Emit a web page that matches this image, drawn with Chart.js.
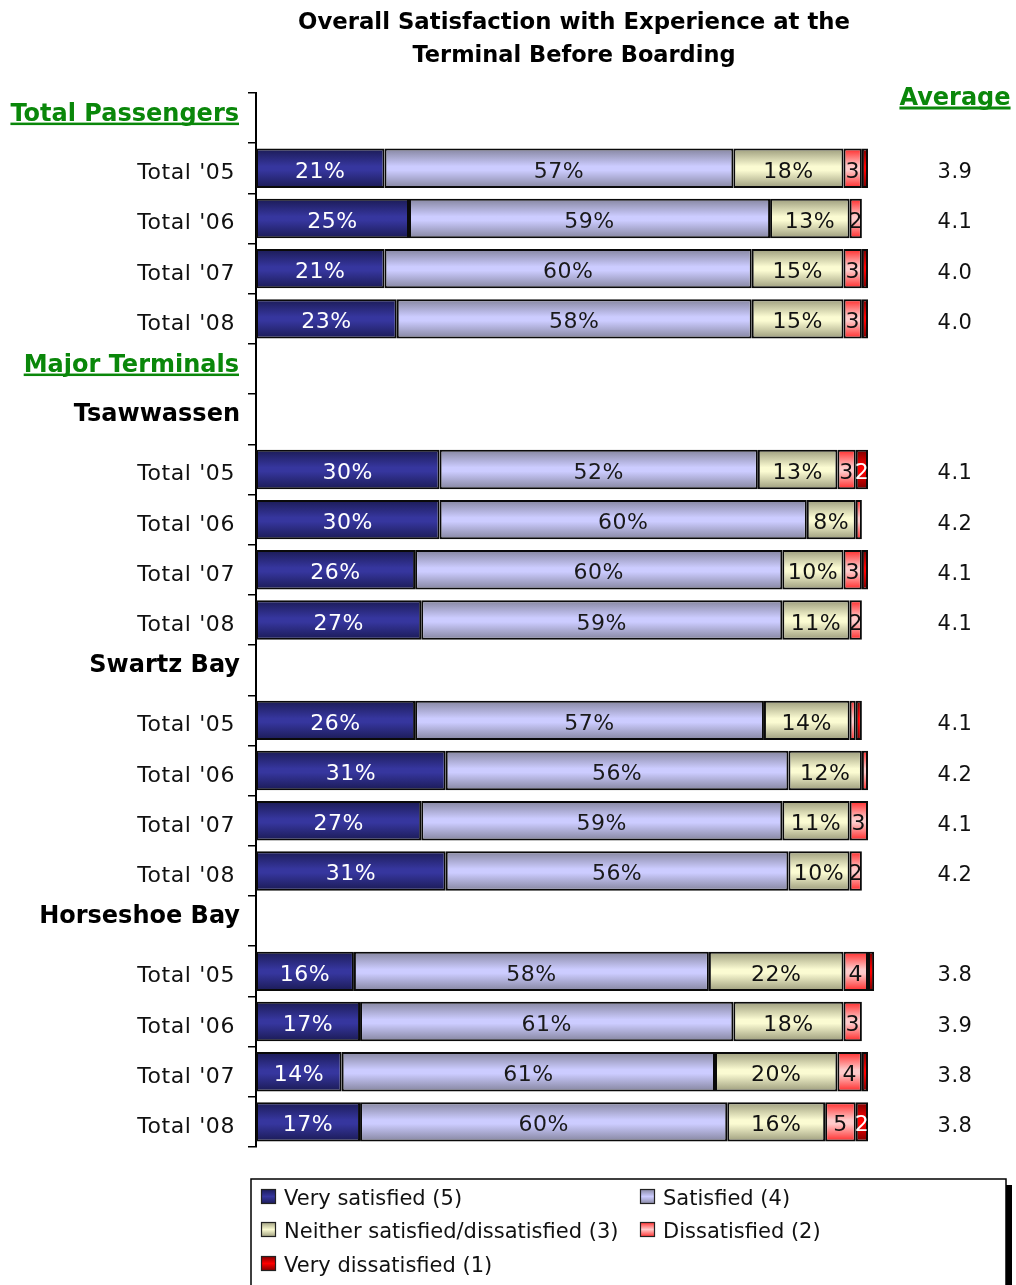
<!DOCTYPE html>
<html><head><meta charset="utf-8">
<script src="https://cdn.jsdelivr.net/npm/chart.js@4/dist/chart.umd.min.js"></script>
<style>html,body{margin:0;padding:0;background:#fff;}canvas{display:block;}</style>
</head><body>
<canvas id="c" width="1016" height="1285"></canvas>
<script>
// ---- data ----
const categories = ['Total Passengers', "Total '05", "Total '06", "Total '07", "Total '08",
  'Major Terminals', 'Tsawwassen', "Total '05", "Total '06", "Total '07", "Total '08",
  'Swartz Bay', "Total '05", "Total '06", "Total '07", "Total '08",
  'Horseshoe Bay', "Total '05", "Total '06", "Total '07", "Total '08"];
const rowKinds = ['section','row','row','row','row','section','terminal','row','row','row','row',
  'terminal','row','row','row','row','terminal','row','row','row','row'];
const verySatisfied    = [null,21,25,21,23,null,null,30,30,26,27,null,26,31,27,31,null,16,17,14,17];
const satisfied        = [null,57,59,60,58,null,null,52,60,60,59,null,57,56,59,56,null,58,61,61,60];
const neither          = [null,18,13,15,15,null,null,13, 8,10,11,null,14,12,11,10,null,22,18,20,16];
const dissatisfied     = [null, 3, 2, 3, 3,null,null, 3, 1, 3, 2,null, 1, 1, 3, 2,null, 4, 3, 4, 5];
const veryDissatisfied = [null, 1, 0, 1, 1,null,null, 2, 0, 1, 0,null, 1, 0, 0, 0,null, 1, 0, 1, 2];
const averages = [null,3.9,4.1,4.0,4.0,null,null,4.1,4.2,4.1,4.1,null,4.1,4.2,4.1,4.2,null,3.8,3.9,3.8,3.8];
const seriesNames = ['Very satisfied (5)','Satisfied (4)','Neither satisfied/dissatisfied (3)','Dissatisfied (2)','Very dissatisfied (1)'];
const titleLines = ['Overall Satisfaction with Experience at the','Terminal Before Boarding'];
const averageHeader = 'Average';

// ---- styles ----
const styles = [
  {edge:'#1b1b55', mid:'#36369e', label:'#ffffff', suffix:'%'},
  {edge:'#85859f', mid:'#ccccff', label:'#1a1a1a', suffix:'%'},
  {edge:'#9c9c7c', mid:'#fbfbd2', label:'#111111', suffix:'%'},
  {edge:'#ff2a2a', mid:'#ffcaca', label:'#111111', suffix:''},
  {edge:'#7a0000', mid:'#ff0000', label:'#ffffff', suffix:''}
];
const GREEN = '#0a870a';
const BAR_PCT = 0.785;
const FONT = '"DejaVu Sans", Verdana, sans-serif';

function fillFor(i){
  return (ctx) => {
    const chart = ctx.chart, y = chart.scales.y;
    if (!y || !chart.chartArea || ctx.type !== 'data') return styles[i].mid;
    const c = y.getPixelForValue(ctx.dataIndex);
    const h = (y.height / categories.length) * BAR_PCT / 2;
    const g = chart.ctx.createLinearGradient(0, c - h, 0, c + h);
    g.addColorStop(0, styles[i].edge);
    g.addColorStop(0.45, styles[i].mid);
    g.addColorStop(0.55, styles[i].mid);
    g.addColorStop(1, styles[i].edge);
    return g;
  };
}
const seriesData = [verySatisfied, satisfied, neither, dissatisfied, veryDissatisfied];
const datasets = seriesData.map((d, i) => ({
  label: seriesNames[i],
  data: d,
  backgroundColor: fillFor(i),
  borderColor: '#0a0a0a',
  borderWidth: (ctx) => (ctx.raw ? 2 : 0),
  borderSkipped: false,
  clip: false,
  barPercentage: BAR_PCT,
  categoryPercentage: 1
}));

function setSpacing(ctx, v){ if ('letterSpacing' in ctx) ctx.letterSpacing = v; }

const decorPlugin = {
  id: 'decor',
  afterDatasetsDraw(chart) {
    const ctx = chart.ctx;
    ctx.save();
    setSpacing(ctx, '0.5px');
    chart.data.datasets.forEach((ds, i) => {
      const meta = chart.getDatasetMeta(i);
      meta.data.forEach((el, j) => {
        const v = ds.data[j];
        if (v == null || v < 2) return;
        const cx = (el.x + el.base) / 2;
        ctx.font = '22px ' + FONT;
        ctx.fillStyle = styles[i].label;
        ctx.textAlign = 'center';
        ctx.textBaseline = 'alphabetic';
        ctx.fillText(v + styles[i].suffix, cx, el.y + 9.5);
      });
    });
    ctx.restore();
  },
  afterDraw(chart) {
    const ctx = chart.ctx, y = chart.scales.y;
    ctx.save();
    ctx.textBaseline = 'alphabetic';
    // title
    ctx.fillStyle = '#000';
    ctx.textAlign = 'center';
    ctx.font = 'bold 23px ' + FONT;
    ctx.fillText(titleLines[0], 574, 29, 552);
    ctx.fillText(titleLines[1], 574, 62, 323);
    // category labels
    categories.forEach((lab, i) => {
      const c = y.getPixelForValue(i);
      const kind = rowKinds[i];
      ctx.textAlign = 'right';
      if (kind === 'row') {
        setSpacing(ctx, '0.6px');
        ctx.font = '22px ' + FONT;
        ctx.fillStyle = '#111';
        ctx.fillText(lab, 235, c + 11);
        setSpacing(ctx, '0px');
      } else {
        ctx.font = 'bold 24px ' + FONT;
        const right = kind === 'section' ? 239 : 240;
        const base = c + (kind === 'section' ? 3 : 2);
        ctx.fillStyle = kind === 'section' ? GREEN : '#000';
        ctx.fillText(lab, right, base);
        if (kind === 'section') {
          const w = ctx.measureText(lab).width;
          ctx.fillRect(right - w, base + 1.5, w, 2.5);
        }
      }
    });
    // average header and values
    ctx.textAlign = 'center';
    ctx.font = 'bold 24px ' + FONT;
    ctx.fillStyle = GREEN;
    ctx.fillText(averageHeader, 955, 105);
    const aw = ctx.measureText(averageHeader).width;
    ctx.fillRect(955 - aw / 2, 106.5, aw, 3);
    setSpacing(ctx, '0.5px');
    ctx.font = '21px ' + FONT;
    ctx.fillStyle = '#111';
    averages.forEach((v, i) => {
      if (v == null) return;
      ctx.fillText(v.toFixed(1), 955, y.getPixelForValue(i) + 10);
    });
    setSpacing(ctx, '0px');
    // legend
    const lx = 251, ly = 1179, lw = 755;
    ctx.fillStyle = '#000';
    ctx.fillRect(lx + lw, ly + 6, 6, 1285 - ly);
    ctx.fillStyle = '#fff';
    ctx.fillRect(lx, ly, lw, 1285 - ly + 10);
    ctx.strokeStyle = '#000';
    ctx.lineWidth = 1.5;
    ctx.strokeRect(lx, ly, lw, 1285 - ly + 10);
    const pos = [[261, 1205], [640, 1205], [261, 1238], [640, 1238], [261, 1272]];
    seriesNames.forEach((name, i) => {
      const [sx, base] = pos[i];
      const top = base - 16;
      const g = ctx.createLinearGradient(0, top, 0, top + 15);
      g.addColorStop(0, styles[i].edge);
      g.addColorStop(0.5, styles[i].mid);
      g.addColorStop(1, styles[i].edge);
      ctx.fillStyle = g;
      ctx.fillRect(sx, top, 15, 15);
      ctx.strokeStyle = '#222';
      ctx.lineWidth = 1.2;
      ctx.strokeRect(sx + 0.5, top + 0.5, 14, 14);
      ctx.fillStyle = '#111';
      ctx.textAlign = 'left';
      ctx.font = '21px ' + FONT;
      const maxW = i === 2 ? 338 : undefined;
      if (maxW) ctx.fillText(name, sx + 23, base, maxW); else ctx.fillText(name, sx + 23, base);
    });
    ctx.restore();
  }
};

new Chart(document.getElementById('c'), {
  type: 'bar',
  data: { labels: categories, datasets },
  options: {
    indexAxis: 'y',
    responsive: false,
    animation: false,
    devicePixelRatio: 1,
    layout: { padding: { top: 93, bottom: 138, right: 148, left: 0 } },
    plugins: { legend: { display: false }, title: { display: false }, tooltip: { enabled: false } },
    scales: {
      x: { stacked: true, min: 0, max: 100, display: false },
      y: {
        stacked: true,
        afterFit: (s) => { s.width = 256; },
        ticks: { display: false },
        grid: { drawOnChartArea: false, drawTicks: true, tickLength: 8, color: '#000', lineWidth: 1.5, offset: true },
        border: { display: true, color: '#000', width: 2 }
      }
    }
  },
  plugins: [decorPlugin]
});
</script>
</body></html>
